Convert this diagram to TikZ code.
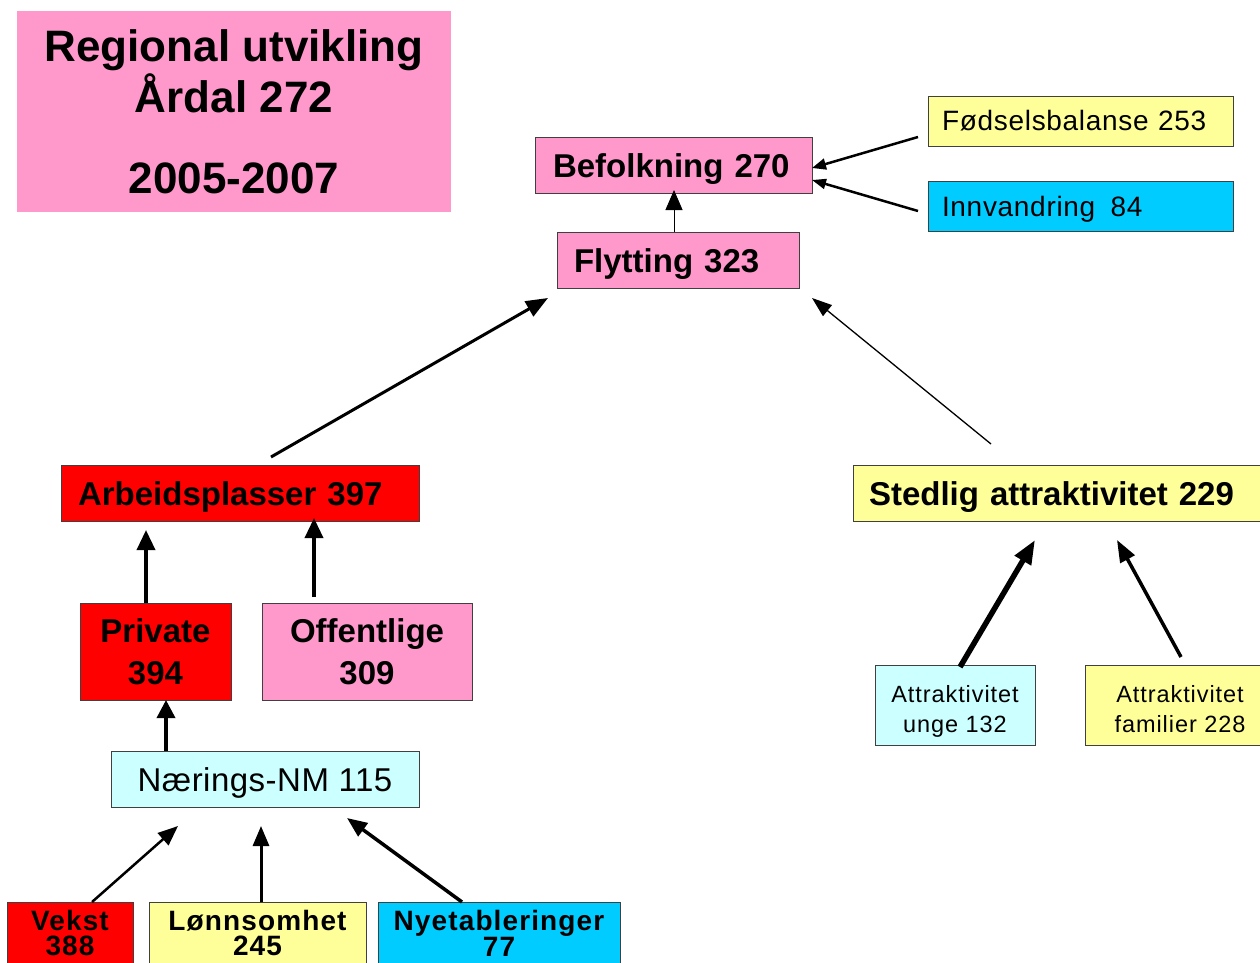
\documentclass[tikz,border=0pt]{standalone}
\usepackage{fontspec}
\setmainfont{Liberation Sans}
\usetikzlibrary{arrows.meta}
\definecolor{pk}{HTML}{FF99CC}
\definecolor{yl}{HTML}{FFFF99}
\definecolor{cy}{HTML}{00CCFF}
\definecolor{lc}{HTML}{CCFFFF}
\definecolor{rd}{HTML}{FF0000}
\definecolor{bd}{HTML}{404040}
\begin{document}
\begin{tikzpicture}[x=1pt,y=-1pt,
  box/.style={draw=bd, line width=0.9pt, anchor=north west, inner ysep=0pt, outer sep=0pt},
  bigb/.style={font=\fontsize{33}{42}\selectfont\bfseries},
  regl/.style={font=\fontsize{28}{34}\selectfont\addfontfeatures{LetterSpace=2.5}},
  smal/.style={font=\fontsize{23.5}{30}\selectfont\addfontfeatures{LetterSpace=4}},
  botb/.style={font=\fontsize{28}{25}\selectfont\bfseries\addfontfeatures{LetterSpace=4}},
  ttl/.style={font=\fontsize{44}{51}\selectfont\bfseries, anchor=base},
  con/.style={line width=#1},
  tip/.style 2 args={-{Triangle[length=#1pt,width=#2pt]}}
]
\useasboundingbox (0,0) rectangle (1260,963);
% title
\node[anchor=north west, fill=pk, minimum width=434, minimum height=201, inner sep=0pt] (title) at (17,11) {};
\node[ttl] (t1) at (234,62) {Regional utvikling};
\node[ttl] (t2) at (234,113) {Årdal 272};
\node[ttl] (t3) at (234,193) {2005-2007};
% boxes
\node[box, fill=pk, bigb, minimum height=56, inner xsep=18pt, text width=241pt, align=left, text height=24pt, text depth=0pt] (bef) at (535,137) {Befolkning 270};
\node[box, fill=yl, regl, minimum height=50, inner xsep=14pt, text width=277pt, align=left, text height=20pt, text depth=0pt] (fod) at (928,96) {Fødselsbalanse 253};
\node[box, fill=cy, regl, minimum height=50, inner xsep=14pt, text width=277pt, align=left, text height=20pt, text depth=0pt] (inn) at (928,181) {Innvandring\hspace{6pt} 84};
\node[box, fill=pk, bigb, minimum height=56, inner xsep=17pt, text width=208pt, align=left, text height=24pt, text depth=0pt] (fly) at (557,232) {Flytting 323};
\node[box, fill=rd, bigb, minimum height=56, inner xsep=17pt, text width=324pt, align=left, text height=24pt, text depth=0pt] (arb) at (61,465) {Arbeidsplasser 397};
\node[box, fill=yl, bigb, minimum height=56, inner xsep=16pt, text width=380pt, align=left, text height=24pt, text depth=0pt] (ste) at (853,465) {Stedlig attraktivitet 229};
\node[box, fill=rd, bigb, minimum height=97, minimum width=151, inner xsep=0pt, align=center] (pri) at (80,603) {Private\\394};
\node[box, fill=pk, bigb, minimum height=97, minimum width=210, inner xsep=0pt, align=center] (off) at (262,603) {Offentlige\\309};
\node[box, fill=lc, font=\fontsize{33}{38}\selectfont\addfontfeatures{LetterSpace=1.5}, minimum height=56, minimum width=308, inner xsep=0pt, text height=24pt, text depth=0pt] (nae) at (111,751) {Nærings-NM 115};
\node[box, fill=lc, smal, minimum height=80, minimum width=160, inner xsep=0pt, align=center] (ung) at (875,665) {\rule{0pt}{29pt}Attraktivitet\\unge 132\rule[-5pt]{0pt}{0pt}};
\node[box, fill=yl, smal, minimum height=80, minimum width=190, inner xsep=0pt, align=center] (fam) at (1085,665) {\rule{0pt}{29pt}Attraktivitet\\familier 228\rule[-5pt]{0pt}{0pt}};
\node[box, fill=rd, botb, minimum height=62, minimum width=126, inner xsep=0pt, align=center] (vek) at (7,902) {Vekst\\388};
\node[box, fill=yl, botb, minimum height=62, minimum width=217, inner xsep=0pt, align=center] (lon) at (149,902) {Lønnsomhet\\245};
\node[box, fill=cy, botb, minimum height=62, minimum width=242, inner xsep=0pt, align=center] (nye) at (378,902) {Nyetableringer\\77};
% connector ends
\coordinate (c1) at (674,190);
\coordinate (c2s) at (918,137); \coordinate (c2) at (812,168);
\coordinate (c3s) at (918,211); \coordinate (c3) at (812,180);
\coordinate (c4s) at (271,457); \coordinate (c4) at (548,298);
\coordinate (c5s) at (991,444); \coordinate (c5) at (812,298);
\coordinate (c6) at (146,530);
\coordinate (c7s) at (314,597); \coordinate (c7) at (314,518);
\coordinate (c8) at (166,700);
\coordinate (c9s) at (92,902); \coordinate (c9) at (178,826);
\coordinate (c10) at (261,826);
\coordinate (c11s) at (462,902); \coordinate (c11) at (347,818);
\coordinate (c12s) at (960,667); \coordinate (c12) at (1035,540);
\coordinate (c13s) at (1181,657); \coordinate (c13) at (1117,540);
% connectors
\draw[con=1pt, tip={20}{17}] (fly.north -| c1) -- (c1);
\draw[con=2.5pt, tip={14}{11}] (c2s) -- (c2);
\draw[con=2.5pt, tip={14}{10}] (c3s) -- (c3);
\draw[con=3pt, tip={22}{17}] (c4s) -- (c4);
\draw[con=1.3pt, tip={20}{14}] (c5s) -- (c5);
\draw[con=3.5pt, tip={20}{18}] (pri.north -| c6) -- (c6);
\draw[con=3.5pt, tip={20}{18}] (c7s) -- (c7);
\draw[con=3.5pt, tip={18}{18}] (nae.north -| c8) -- (c8);
\draw[con=2.5pt, tip={20}{16}] (c9s) -- (c9);
\draw[con=3pt, tip={20}{16}] (lon.north -| c10) -- (c10);
\draw[con=3.5pt, tip={20}{16}] (c11s) -- (c11);
\draw[con=5.5pt, tip={24}{18}] (c12s) -- (c12);
\draw[con=3.5pt, tip={22}{16}] (c13s) -- (c13);
\end{tikzpicture}
\end{document}
